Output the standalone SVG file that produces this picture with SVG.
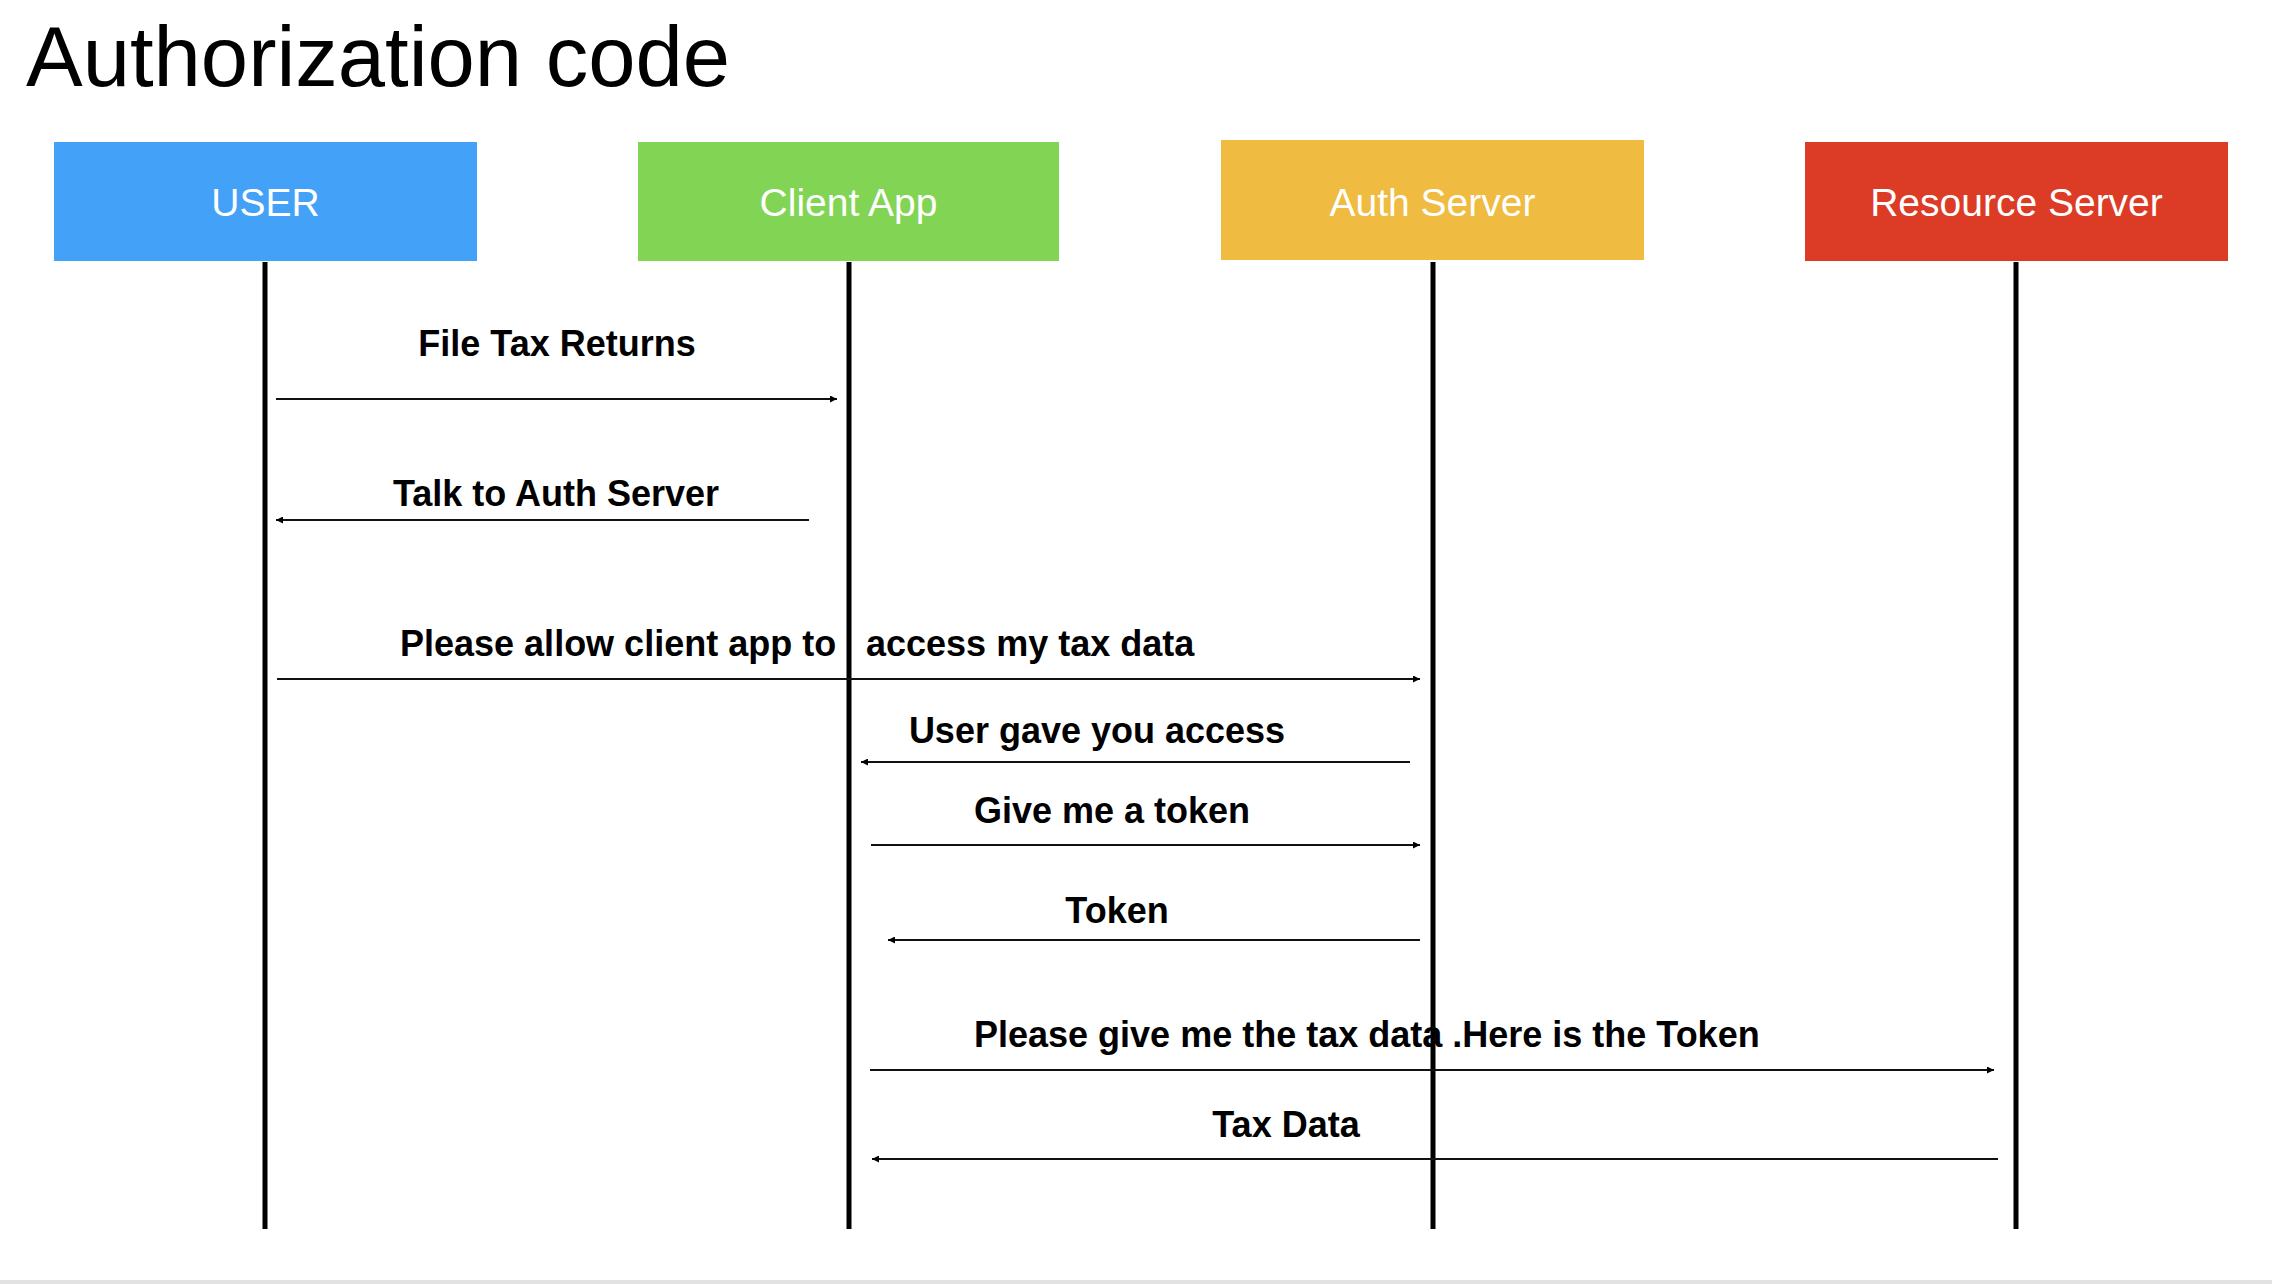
<svg xmlns="http://www.w3.org/2000/svg" width="2272" height="1284" viewBox="0 0 2272 1284">
<style>
.title{font-family:"Liberation Sans",Arial,sans-serif;font-size:85px;fill:#000}
.box-label{font-family:"Liberation Sans",Arial,sans-serif;font-size:39px;fill:#fff;text-anchor:middle}
.msg{font-family:"Liberation Sans",Arial,sans-serif;font-size:36px;font-weight:bold;fill:#000}
.mid{text-anchor:middle}
.life{stroke:#000;stroke-width:5;fill:none}
.arrow{stroke:#111;stroke-width:2;fill:none;marker-end:url(#ah)}
</style>
<defs>
<marker id="ah" viewBox="0 0 10 10" refX="10" refY="5" markerWidth="8" markerHeight="7" markerUnits="userSpaceOnUse" orient="auto">
<path d="M0,0 L10,5 L0,10 z" fill="#000"/>
</marker>
</defs>
<rect x="0" y="0" width="2272" height="1284" fill="#fff"/>
<rect x="0" y="1280" width="2272" height="4" fill="#e2e2e2"/>
<text class="title" x="26" y="86">Authorization code</text>

<g id="user">
<rect x="54" y="142" width="423" height="119" fill="#43A2F7"/>
<text class="box-label" x="265.5" y="216">USER</text>
<line class="life" x1="265" y1="262" x2="265" y2="1229"/>
</g>
<g id="client-app">
<rect x="638" y="142" width="421" height="119" fill="#82D455"/>
<text class="box-label" x="848.5" y="216">Client App</text>
<line class="life" x1="849" y1="262" x2="849" y2="1229"/>
</g>
<g id="auth-server">
<rect x="1221" y="140" width="423" height="120" fill="#EFBB40"/>
<text class="box-label" x="1432.5" y="216">Auth Server</text>
<line class="life" x1="1433" y1="262" x2="1433" y2="1229"/>
</g>
<g id="resource-server">
<rect x="1805" y="142" width="423" height="119" fill="#DC3B26"/>
<text class="box-label" x="2016.5" y="216">Resource Server</text>
<line class="life" x1="2016" y1="262" x2="2016" y2="1229"/>
</g>

<g id="connectors">
<line class="arrow" x1="276" y1="399" x2="837" y2="399"/>
<line class="arrow" x1="809" y1="520" x2="276" y2="520"/>
<line class="arrow" x1="277" y1="679" x2="1420" y2="679"/>
<line class="arrow" x1="1410" y1="762" x2="861" y2="762"/>
<line class="arrow" x1="871" y1="845" x2="1420" y2="845"/>
<line class="arrow" x1="1420" y1="940" x2="888" y2="940"/>
<line class="arrow" x1="870" y1="1070" x2="1994" y2="1070"/>
<line class="arrow" x1="1998" y1="1159" x2="872" y2="1159"/>
</g>

<g id="labels">
<text class="msg mid" x="557" y="356">File Tax Returns</text>
<text class="msg mid" x="556" y="506">Talk to Auth Server</text>
<text class="msg" y="656"><tspan x="400">Please allow client app to</tspan><tspan x="866">access my tax data</tspan></text>
<text class="msg mid" x="1097" y="743">User gave you access</text>
<text class="msg mid" x="1112" y="823">Give me a token</text>
<text class="msg mid" x="1117" y="923">Token</text>
<text class="msg" x="974" y="1047">Please give me the tax data .Here is the Token</text>
<text class="msg mid" x="1286" y="1137">Tax Data</text>
</g>
</svg>
